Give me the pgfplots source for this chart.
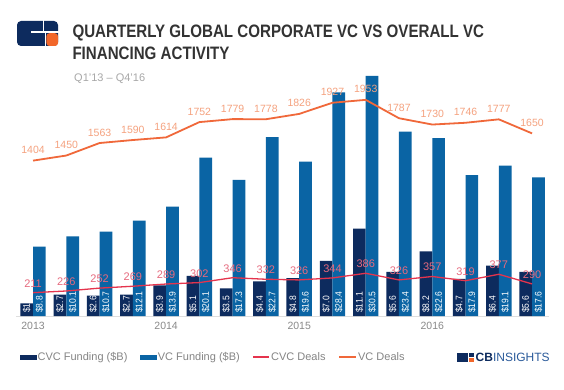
\documentclass[border=0pt]{standalone}
\usepackage{pgfplots}
\pgfplotsset{compat=1.18}
\usepackage{pgfplotstable}
\usepackage{fontspec}
\setmainfont{Liberation Sans}
\newfontfamily\titlefont[FakeStretch=0.84]{Liberation Sans}
\newfontfamily\barfont[FakeStretch=0.9]{Liberation Sans}
\definecolor{cvcbar}{HTML}{0D2B5E}
\definecolor{vcbar}{HTML}{0A64A4}
\definecolor{cvcline}{HTML}{E5344D}
\definecolor{vcline}{HTML}{F0683A}
\definecolor{cvclab}{HTML}{E66A7E}
\definecolor{vclab}{HTML}{F5A27F}
\definecolor{titlegray}{HTML}{333333}
\definecolor{subgray}{HTML}{A8A8A8}
\definecolor{leggray}{HTML}{858585}
\definecolor{yeargray}{HTML}{8A8A8A}
\definecolor{cbnavy}{HTML}{0D2B5E}
\definecolor{cbblue}{HTML}{2A5A9A}
\definecolor{cborange}{HTML}{F2672A}

\pgfplotstableread{
x cvc vc cvcd vcd
0 1.6 8.8 211 1404
1 2.7 10.1 226 1450
2 2.6 10.7 252 1563
3 2.7 12.1 269 1590
4 3.9 13.9 289 1614
5 5.1 20.1 302 1752
6 3.5 17.3 346 1779
7 4.4 22.7 332 1778
8 4.8 19.6 326 1826
9 7.0 28.4 344 1927
10 11.1 30.5 386 1953
11 5.6 23.4 326 1787
12 8.2 22.6 357 1730
13 4.7 17.9 319 1746
14 6.4 19.1 377 1777
15 5.6 17.6 290 1650
}\data

\pgfplotsset{base/.style={scale only axis, width=532.3pt, height=252pt,
  at={(16.4pt,73pt)}, anchor=south west, xmin=-0.5, xmax=15.5, clip=false}}

\begin{document}
\begin{tikzpicture}[x=1pt,y=1pt]
\path[use as bounding box, fill=white] (0,0) rectangle (564,389);
% top logo
\fill[cbnavy, rounded corners=4pt] (17,343) rectangle (58,368);
\fill[white] (31,355.8) rectangle (58.5,357.6);
\fill[white] (42.6,357) rectangle (44,368.5);
\fill[white] (44.6,342.5) rectangle (46.4,356);
\fill[cborange, rounded corners=3pt] (46.4,343) -- (58,343) -- (58,355.8) -- (46.4,355.8) -- cycle;
% title
\node[anchor=base west, inner sep=0, text=titlegray, font=\titlefont\bfseries\fontsize{18}{22}\selectfont] at (72.3,351.8) {QUARTERLY GLOBAL CORPORATE VC VS OVERALL VC};
\node[anchor=base west, inner sep=0, text=titlegray, font=\titlefont\bfseries\fontsize{18}{22}\selectfont] at (72.3,329.3) {FINANCING ACTIVITY};
\node[anchor=base west, inner sep=0, text=subgray, font=\fontsize{11}{13}\selectfont] at (74,307.7) {Q1’13 – Q4’16};
% bottom-right logo
\fill[cbnavy] (457,27.5) rectangle (468,36.5);
\fill[cbnavy] (469,32.5) rectangle (474,36.5);
\fill[cborange] (469,27.5) rectangle (474,31.5);
\node[anchor=base west, inner sep=0, font=\fontsize{12}{14}\selectfont] at (475.5,28)
  {\textcolor{cbnavy}{\bfseries CB}\textcolor{cbblue}{INSIGHTS}};

% decoration axis: baseline, years, legend
\begin{axis}[base, ymin=0, ymax=32,
  axis x line=bottom, axis y line=none,
  x axis line style={draw=black!13, line width=0.8pt, -},
  xtick={0,4,8,12}, xticklabels={2013,2014,2015,2016},
  major tick length=0pt,
  xticklabel style={font=\fontsize{10.5}{12}\selectfont, text=yeargray, yshift=-3pt},
  legend style={at={(axis description cs:0.0068,-0.1627)}, anchor=west,
    draw=none, fill=none, legend columns=4, inner xsep=0pt,
    font=\fontsize{11}{13}\selectfont, text=leggray,
    /tikz/every even column/.append style={column sep=12pt},
    nodes={inner xsep=1pt}},
  legend cell align=left]
\addlegendimage{legend image code/.code={\fill[cvcbar] (0pt,-2pt) rectangle (16pt,2pt);}}
\addlegendentry{CVC Funding (\$B)}
\addlegendimage{legend image code/.code={\fill[vcbar] (0pt,-2pt) rectangle (16pt,2pt);}}
\addlegendentry{VC Funding (\$B)}
\addlegendimage{legend image code/.code={\draw[cvcline, line width=1.3pt] (0pt,0pt) -- (16pt,0pt);}}
\addlegendentry{CVC Deals}
\addlegendimage{legend image code/.code={\draw[vcline, line width=1.6pt] (0pt,0pt) -- (17pt,0pt);}}
\addlegendentry{VC Deals}
\end{axis}

% bars
\begin{axis}[base, ymin=0, ymax=32, axis lines=none, ybar=0pt, bar width=12.7pt]
\addplot[fill=cvcbar, draw=none] table[x=x,y=cvc]{\data};
\addplot[fill=vcbar, draw=none] table[x=x,y=vc]{\data};
\end{axis}

% bar labels
\begin{axis}[base, ymin=0, ymax=32, axis lines=none]
\addplot[draw=none, nodes near coords={\$\pgfplotspointmeta}, point meta=explicit symbolic,
  every node near coord/.style={rotate=90, anchor=west, inner sep=0pt, text=white,
  font=\barfont\fontsize{9.5}{11}\selectfont}]
  table[x expr=\thisrow{x}-0.1909, y expr=0.38, meta=cvc]{\data};
\addplot[draw=none, nodes near coords={\$\pgfplotspointmeta}, point meta=explicit symbolic,
  every node near coord/.style={rotate=90, anchor=west, inner sep=0pt, text=white,
  font=\barfont\fontsize{9.5}{11}\selectfont}]
  table[x expr=\thisrow{x}+0.1909, y expr=0.38, meta=vc]{\data};
\end{axis}

% deals
\begin{axis}[base, ymin=0, ymax=2277, axis lines=none]
\addplot[cvcline, line width=1.3pt, line join=round, mark=none,
  nodes near coords={\pgfplotspointmeta}, point meta=explicit symbolic,
  every node near coord/.style={anchor=base, inner sep=0pt, yshift=5.5pt, text=cvclab,
  font=\fontsize{11}{13}\selectfont}]
  table[x=x,y=cvcd,meta=cvcd]{\data};
\addplot[vcline, line width=1.8pt, line join=round, mark=none,
  nodes near coords={\pgfplotspointmeta}, point meta=explicit symbolic,
  every node near coord/.style={anchor=base, inner sep=0pt, yshift=7pt, text=vclab,
  font=\fontsize{10.5}{12}\selectfont}]
  table[x=x,y=vcd,meta=vcd]{\data};
\end{axis}
\end{tikzpicture}
\end{document}
